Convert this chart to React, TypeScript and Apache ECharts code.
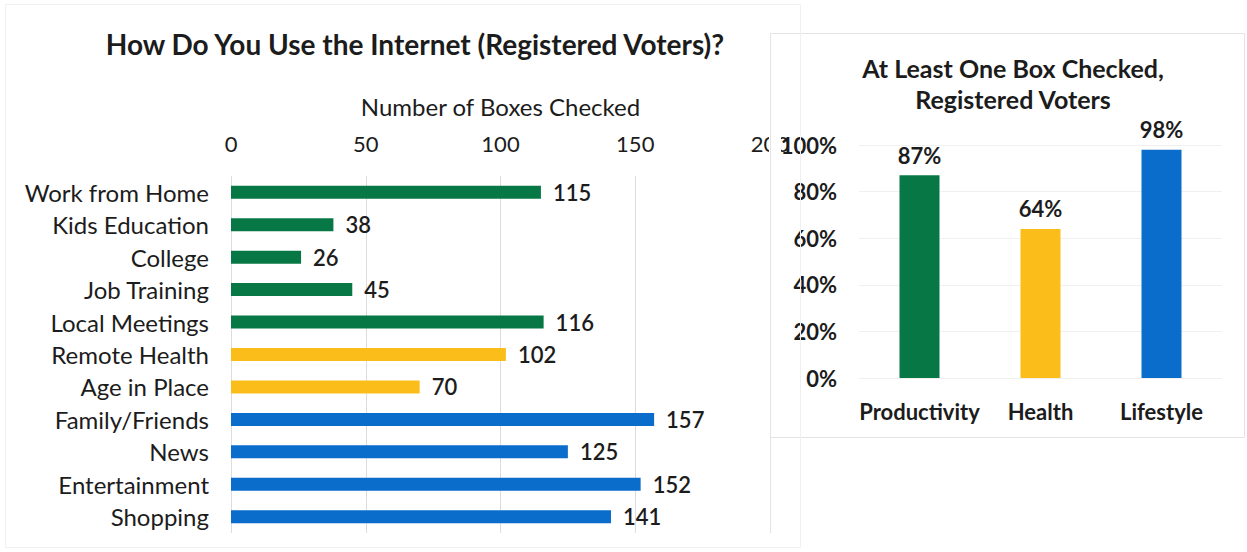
import React, { useEffect, useRef } from "react";
import * as echarts from "echarts";

const categories = [
  "Work from Home",
  "Kids Education",
  "College",
  "Job Training",
  "Local Meetings",
  "Remote Health",
  "Age in Place",
  "Family/Friends",
  "News",
  "Entertainment",
  "Shopping",
];
const counts = [115, 38, 26, 45, 116, 102, 70, 157, 125, 152, 141];
const groups = [
  "Productivity", "Productivity", "Productivity", "Productivity", "Productivity",
  "Health", "Health",
  "Lifestyle", "Lifestyle", "Lifestyle", "Lifestyle",
];
const xTicks = [0, 50, 100, 150, 200];

const summaryCategories = ["Productivity", "Health", "Lifestyle"];
const summaryValues = [0.87, 0.64, 0.98];

const groupColors: Record<string, string> = {
  Productivity: "#077745",
  Health: "#fbbd19",
  Lifestyle: "#0a6dcc",
};

const FONT = "Lato, 'Open Sans', sans-serif";
const INK = "#1c1c1c";

export default function App() {
  const ref = useRef<HTMLDivElement>(null);
  useEffect(() => {
    document.body.style.margin = "0";
    const chart = echarts.init(ref.current!, null, { renderer: "svg" });
    chart.setOption({
      animation: false,
      backgroundColor: "#ffffff",
      textStyle: { fontFamily: FONT },
      title: [
        {
          text: "How Do You Use the Internet (Registered Voters)?",
          left: 410,
          textAlign: "center",
          top: 25,
          textStyle: { fontFamily: FONT, fontSize: 28, fontWeight: "bold", color: INK },
        },
        {
          text: "At Least One Box Checked,\nRegistered Voters",
          left: 1008,
          textAlign: "center",
          top: 47,
          textStyle: { fontFamily: FONT, fontSize: 25, fontWeight: "bold", color: INK, lineHeight: 31 },
        },
      ],
      grid: [
        { left: 231, right: 477, top: 176, bottom: 19 },
        { left: 859, right: 25, top: 145, bottom: 174 },
      ],
      xAxis: [
        {
          gridIndex: 0,
          type: "value",
          position: "top",
          min: xTicks[0],
          max: xTicks[xTicks.length - 1],
          interval: 50,
          name: "Number of Boxes Checked",
          nameLocation: "middle",
          nameGap: 58,
          nameTextStyle: { fontFamily: FONT, fontSize: 24, color: INK },
          axisLine: { show: false },
          axisTick: { show: false },
          axisLabel: { fontFamily: FONT, fontSize: 22, color: INK, margin: 22 },
          splitLine: { show: true, lineStyle: { color: "#dcdcdc", width: 1 } },
        },
        {
          gridIndex: 1,
          type: "category",
          data: summaryCategories,
          axisLine: { show: false },
          axisTick: { show: false },
          axisLabel: { fontFamily: FONT, fontSize: 22, fontWeight: "bold", color: INK, margin: 22, interval: 0 },
        },
      ],
      yAxis: [
        {
          gridIndex: 0,
          type: "category",
          data: categories,
          inverse: true,
          axisLine: { show: false },
          axisTick: { show: false },
          axisLabel: { fontFamily: FONT, fontSize: 24, color: INK, margin: 22, interval: 0 },
        },
        {
          gridIndex: 1,
          type: "value",
          min: 0,
          max: 1,
          interval: 0.2,
          axisLine: { show: false },
          axisTick: { show: false },
          axisLabel: {
            fontFamily: FONT,
            fontSize: 22,
            fontWeight: "bold",
            color: INK,
            margin: 22,
            formatter: (v: number) => Math.round(v * 100) + "%",
          },
          splitLine: { show: true, lineStyle: { color: "#f0f0f0", width: 1 } },
        },
      ],
      series: [
        {
          type: "bar",
          xAxisIndex: 0,
          yAxisIndex: 0,
          barWidth: 13,
          data: counts.map((v, i) => ({ value: v, itemStyle: { color: groupColors[groups[i]] } })),
          label: {
            show: true,
            position: "right",
            distance: 12,
            fontFamily: FONT,
            fontSize: 22,
            fontWeight: 600,
            color: INK,
          },
        },
        {
          type: "bar",
          xAxisIndex: 1,
          yAxisIndex: 1,
          barWidth: 40,
          data: summaryValues.map((v, i) => ({ value: v, itemStyle: { color: groupColors[summaryCategories[i]] } })),
          label: {
            show: true,
            position: "top",
            distance: 9,
            fontFamily: FONT,
            fontSize: 22,
            fontWeight: "bold",
            color: INK,
            formatter: (p: any) => Math.round(p.value * 100) + "%",
          },
        },
      ],
      graphic: [
        {
          type: "rect",
          z: 100,
          shape: { x: 769, y: 128, width: 12, height: 34 },
          style: { fill: "#ffffff" },
        },
        {
          type: "rect",
          z: 101,
          shape: { x: 770.5, y: 33.5, width: 474, height: 404 },
          style: { fill: "none", stroke: "#e4e4e4", lineWidth: 1 },
        },
        {
          type: "line",
          z: 101,
          shape: { x1: 770.5, y1: 437, x2: 770.5, y2: 532 },
          style: { stroke: "#e4e4e4", lineWidth: 1 },
        },
        {
          type: "rect",
          z: 101,
          shape: { x: 5.5, y: 4.5, width: 795, height: 543 },
          style: { fill: "none", stroke: "#f0f0f0", lineWidth: 1 },
        },
      ],
    });
    return () => chart.dispose();
  }, []);
  return (
    <div
      ref={ref}
      style={{ position: "absolute", left: 0, top: 0, width: 1247, height: 552 }}
    />
  );
}
